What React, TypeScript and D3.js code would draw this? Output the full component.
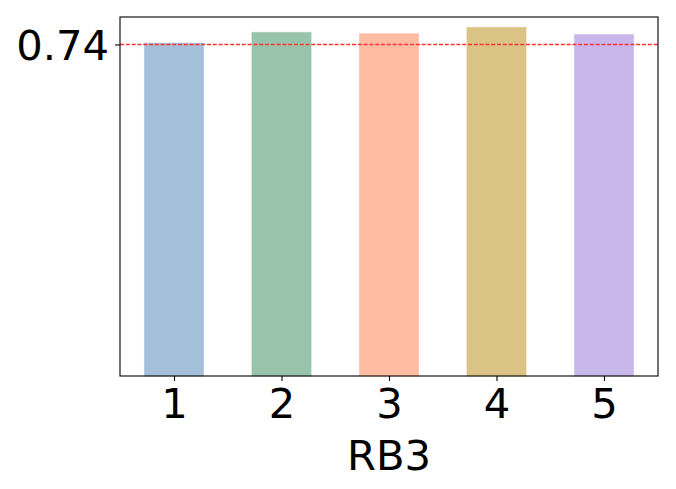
import { useEffect, useRef } from "react";
import * as d3 from "d3";

// categories and bar values
const categories = [1, 2, 3, 4, 5];
const values = [0.743, 0.767, 0.764, 0.778, 0.762];
const colors = ["#a3bfd9", "#97c4aa", "#ffbca3", "#dbc386", "#c9b7ec"];
const refValue = 0.74;
const refLabel = "0.74";
const xLabel = "RB3";

const App = () => {
    const svgRef = useRef<SVGSVGElement | null>(null);

    useEffect(() => {
        const W = 676;
        const H = 489;
        const margin = { top: 17, right: 18, bottom: 113, left: 120 };
        const width = W - margin.left - margin.right;
        const height = H - margin.top - margin.bottom;
        const font = "'DejaVu Sans', sans-serif";

        d3.select(svgRef.current).selectAll("*").remove();

        const svg = d3
            .select(svgRef.current)
            .attr("width", W)
            .attr("height", H)
            .append("g")
            .attr("transform", `translate(${margin.left},${margin.top})`);

        const barW = 0.55;
        const x = d3.scaleLinear().domain([0.4975, 5.5025]).range([0, width]);
        const y = d3.scaleLinear().domain([0, 0.8013]).range([height, 0]);

        // bars
        svg.selectAll("rect.bar")
            .data(values)
            .enter()
            .append("rect")
            .attr("class", "bar")
            .attr("x", (_, i) => x(categories[i] - barW / 2))
            .attr("width", x(barW) - x(0))
            .attr("y", (d) => y(d))
            .attr("height", (d) => height - y(d))
            .attr("fill", (_, i) => colors[i])
            .attr("stroke", (_, i) => colors[i])
            .attr("stroke-opacity", 0.6)
            .attr("stroke-width", 1);

        // reference line
        svg.append("line")
            .attr("x1", 0)
            .attr("x2", width)
            .attr("y1", y(refValue))
            .attr("y2", y(refValue))
            .attr("stroke", "#ff3333")
            .attr("stroke-width", 1.4)
            .attr("stroke-dasharray", "4,1.8");

        // frame
        svg.append("rect")
            .attr("width", width)
            .attr("height", height)
            .attr("fill", "none")
            .attr("stroke", "#000")
            .attr("stroke-width", 1.1);

        // x axis
        const xAxis = svg
            .append("g")
            .attr("transform", `translate(0,${height})`)
            .call(d3.axisBottom(x).tickValues(categories).tickFormat(d3.format("d")).tickSize(5).tickPadding(5));
        xAxis.select(".domain").remove();
        xAxis.selectAll("line").attr("stroke-width", 1.1);
        xAxis.selectAll("text")
            .attr("font-family", font)
            .attr("font-size", 41.7)
            .attr("fill", "#000")
            .attr("dy", "0.76em");

        // y axis, a single tick at the reference value
        const yAxis = svg
            .append("g")
            .call(d3.axisLeft(y).tickValues([refValue]).tickFormat(() => refLabel).tickSize(5).tickPadding(6));
        yAxis.select(".domain").remove();
        yAxis.selectAll("line").attr("stroke-width", 1.1);
        yAxis.selectAll("text")
            .attr("font-family", font)
            .attr("font-size", 41.7)
            .attr("fill", "#000")
            .attr("dy", "0.36em");

        // x label
        svg.append("text")
            .attr("x", width / 2)
            .attr("y", height + 94)
            .attr("text-anchor", "middle")
            .attr("font-family", font)
            .attr("font-size", 41.7)
            .attr("fill", "#000")
            .text(xLabel);
    }, []);

    return (
        <div style={{ position: "absolute", left: 0, top: 0 }}>
            <svg ref={svgRef} style={{ display: "block" }}></svg>
        </div>
    );
};

export default App;
